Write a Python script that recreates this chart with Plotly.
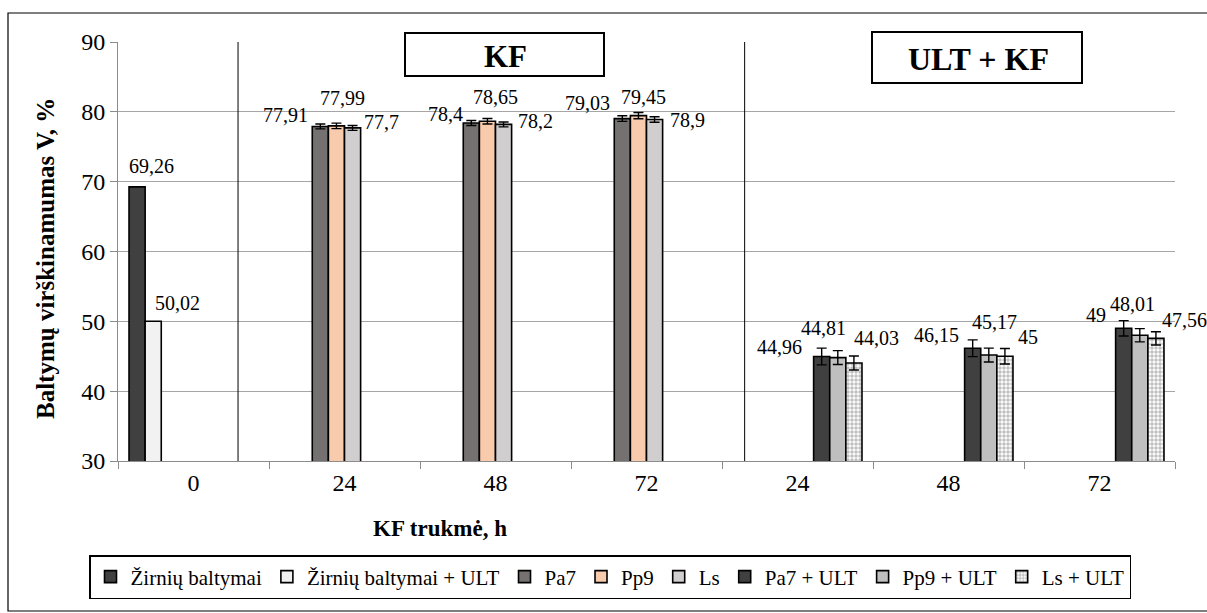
import plotly.graph_objects as go

# ---- data ----
category_labels = ["0", "24", "48", "72", "24", "48", "72"]
series_names = ["Žirnių baltymai", "Žirnių baltymai + ULT", "Pa7", "Pp9", "Ls",
                "Pa7 + ULT", "Pp9 + ULT", "Ls + ULT"]
cat_idx = {
    "Žirnių baltymai": [0],
    "Žirnių baltymai + ULT": [0],
    "Pa7": [1, 2, 3],
    "Pp9": [1, 2, 3],
    "Ls": [1, 2, 3],
    "Pa7 + ULT": [4, 5, 6],
    "Pp9 + ULT": [4, 5, 6],
    "Ls + ULT": [4, 5, 6],
}
values = {
    "Žirnių baltymai": [69.26],
    "Žirnių baltymai + ULT": [50.02],
    "Pa7": [77.91, 78.40, 79.03],
    "Pp9": [77.99, 78.65, 79.45],
    "Ls": [77.70, 78.20, 78.90],
    "Pa7 + ULT": [44.96, 46.15, 49.00],
    "Pp9 + ULT": [44.81, 45.17, 48.01],
    "Ls + ULT": [44.03, 45.00, 47.56],
}
errors = {
    "Žirnių baltymai": [0],
    "Žirnių baltymai + ULT": [0],
    "Pa7": [0.35, 0.35, 0.4],
    "Pp9": [0.4, 0.4, 0.45],
    "Ls": [0.35, 0.35, 0.4],
    "Pa7 + ULT": [1.2, 1.2, 1.1],
    "Pp9 + ULT": [1.0, 1.0, 0.95],
    "Ls + ULT": [1.0, 1.1, 0.95],
}
label_texts = {
    "Žirnių baltymai": ["69,26"],
    "Žirnių baltymai + ULT": ["50,02"],
    "Pa7": ["77,91", "78,4", "79,03"],
    "Pp9": ["77,99", "78,65", "79,45"],
    "Ls": ["77,7", "78,2", "78,9"],
    "Pa7 + ULT": ["44,96", "46,15", "49"],
    "Pp9 + ULT": ["44,81", "45,17", "48,01"],
    "Ls + ULT": ["44,03", "45", "47,56"],
}

# ---- styling ----
colors = {
    "Žirnių baltymai": "#404040",
    "Žirnių baltymai + ULT": "#f2f2f2",
    "Pa7": "#767171",
    "Pp9": "#f8cbad",
    "Ls": "#d0cece",
    "Pa7 + ULT": "#404040",
    "Pp9 + ULT": "#bfbfbf",
    "Ls + ULT": "#ffffff",
}
# label offsets in px (xshift, yshift) relative to bar top centre
label_offsets = {
    "Žirnių baltymai": [(14, 21)],
    "Žirnių baltymai + ULT": [(24, 18)],
    "Pa7": [(-35, 11), (-26, 9), (-35, 16)],
    "Pp9": [(6, 28), (8, 24), (5, 19)],
    "Ls": [(29, 6), (32, 3), (33, 0)],
    "Pa7 + ULT": [(-42, 10), (-36, 13), (-28, 13)],
    "Pp9 + ULT": [(-14, 30), (6, 33), (-7, 31)],
    "Ls + ULT": [(23, 25), (23, 19), (29, 18)],
}

FONT = "'Liberation Serif', 'Times New Roman', 'DejaVu Serif', serif"
bargap = 0.146
nser = len(series_names)
w = (1 - bargap) / nser

fig = go.Figure()
annotations = []
for i, name in enumerate(series_names):
    marker = dict(color=colors[name], line=dict(color="black", width=1.6))
    if name == "Ls + ULT":
        marker["pattern"] = dict(shape=".", size=4, solidity=0.6,
                                 fgcolor="#7f7f7f", bgcolor="#ffffff")
    show_err = any(e > 0 for e in errors[name])
    fig.add_trace(go.Bar(
        name=name,
        x=cat_idx[name],
        y=values[name],
        marker=marker,
        error_y=dict(type="data", array=errors[name], visible=show_err,
                     color="black", thickness=1.4, width=5),
    ))
    off = (-nser / 2 + 0.5 + i) * w
    for c, v, t, (dx, dy) in zip(cat_idx[name], values[name], label_texts[name], label_offsets[name]):
        annotations.append(dict(
            x=c + off, y=v, xref="x", yref="y", text=t, showarrow=False,
            xshift=dx, yshift=dy, font=dict(family=FONT, size=20, color="black"),
            xanchor="center", yanchor="middle",
        ))

# plot-area pixel geometry helpers (for shapes in paper coords)
W, H = 1207, 613
L, R, T, B = 118, 1175, 42, 461
def px(xp):
    return (xp - L) / (R - L)
def py(yp):
    return (B - yp) / (B - T)

shapes = [
    # outer border
    dict(type="rect", xref="paper", yref="paper", x0=px(8), x1=px(1215), y0=py(611), y1=py(13),
         line=dict(color="black", width=1.2), layer="below"),
    # separators
    dict(type="line", xref="x", yref="y", x0=0.295, x1=0.295, y0=30, y1=90,
         line=dict(color="black", width=1)),
    dict(type="line", xref="x", yref="y", x0=3.65, x1=3.65, y0=30, y1=90,
         line=dict(color="black", width=1)),
    # title boxes
    dict(type="rect", xref="paper", yref="paper", x0=px(405), x1=px(604), y0=py(76), y1=py(33),
         line=dict(color="black", width=2), fillcolor="white"),
    dict(type="rect", xref="paper", yref="paper", x0=px(872), x1=px(1082), y0=py(83), y1=py(32),
         line=dict(color="black", width=2), fillcolor="white"),
]
annotations += [
    dict(x=px(505), y=py(57), xref="paper", yref="paper", text="<b>KF</b>", showarrow=False,
         font=dict(family=FONT, size=31, color="black"), xanchor="center", yanchor="middle"),
    dict(x=px(978), y=py(59), xref="paper", yref="paper", text="<b>ULT + KF</b>", showarrow=False,
         font=dict(family=FONT, size=32, color="black"), xanchor="center", yanchor="middle"),
    dict(x=px(440), y=py(528), xref="paper", yref="paper", text="<b>KF trukmė, h</b>", showarrow=False,
         font=dict(family=FONT, size=23, color="black"), xanchor="center", yanchor="middle"),
    dict(x=px(45), y=py(259), xref="paper", yref="paper", text="<b>Baltymų virškinamumas V, %</b>",
         showarrow=False, textangle=-90,
         font=dict(family=FONT, size=25, color="black"), xanchor="center", yanchor="middle"),
]

fig.update_layout(
    width=W, height=H,
    margin=dict(l=L, r=W - R, t=T, b=H - B, autoexpand=False),
    paper_bgcolor="white", plot_bgcolor="white",
    barmode="group", bargap=bargap, bargroupgap=0,
    font=dict(family=FONT, size=21, color="black"),
    showlegend=True,
    legend=dict(orientation="h", xref="container", yref="container",
                x=610 / W, xanchor="center", y=(H - 555) / H, yanchor="top",
                bordercolor="black", borderwidth=1.5, font=dict(family=FONT, size=21),
                itemwidth=30, tracegroupgap=0),
    shapes=shapes,
    annotations=annotations,
    xaxis=dict(range=[-0.5, 6.5], tickmode="array", tickvals=list(range(7)),
               ticktext=category_labels, ticks="", showline=True, linecolor="#8c8c8c",
               linewidth=1, showgrid=False, zeroline=False, automargin=False,
               tickfont=dict(family=FONT, size=24),
               minor=dict(tickmode="array", tickvals=[k - 0.5 for k in range(8)],
                          ticks="outside", ticklen=7, tickcolor="#8c8c8c", showgrid=False)),
    yaxis=dict(range=[30, 90], dtick=10, ticks="outside", ticklen=7, tickcolor="#8c8c8c",
               showline=True, linecolor="#8c8c8c", linewidth=1, showgrid=True,
               gridcolor="#a6a6a6", gridwidth=1, zeroline=False, automargin=False,
               tickfont=dict(family=FONT, size=24)),
)

fig.write_html("out.html", config={"displayModeBar": False},
               post_script="document.body.style.margin='0';document.body.style.overflow='hidden';")
